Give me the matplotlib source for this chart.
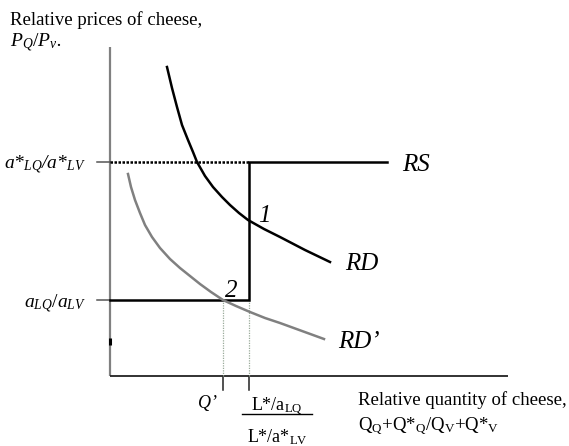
import matplotlib
matplotlib.use("Agg")
import matplotlib.pyplot as plt

plt.rcParams['font.family'] = ['Liberation Serif', 'DejaVu Serif']
plt.rcParams['mathtext.fontset'] = 'custom'
plt.rcParams['mathtext.rm'] = 'Liberation Serif'
plt.rcParams['mathtext.it'] = 'Liberation Serif:italic'

# Relative supply: flat at the two autarky price ratios, vertical at world labour ratio
price_low = 0.76     # a_LQ / a_LV
price_high = 2.14    # a*_LQ / a*_LV
labour_ratio = 1.39  # (L*/a_LQ) / (L*/a*_LV)
q_prime = 1.13       # Q'
rs_end = 2.77

# Relative demand curves (read points)
rd_x = [0.57, 0.62, 0.67, 0.72, 0.78, 0.83, 0.87, 0.95, 1.03, 1.12, 1.20, 1.29, 1.38, 1.54, 1.70, 1.95, 2.20]
rd_y = [3.09, 2.88, 2.69, 2.51, 2.36, 2.24, 2.14, 2.00, 1.89, 1.79, 1.71, 1.63, 1.56, 1.47, 1.39, 1.26, 1.14]
rd2_x = [0.18, 0.21, 0.25, 0.30, 0.35, 0.42, 0.50, 0.60, 0.70, 0.80, 0.90, 1.01, 1.13, 1.26, 1.40, 1.55, 1.70, 1.92, 2.14]
rd2_y = [2.02, 1.89, 1.76, 1.63, 1.51, 1.39, 1.28, 1.17, 1.08, 1.00, 0.92, 0.84, 0.76, 0.70, 0.64, 0.58, 0.53, 0.45, 0.37]

fig = plt.figure(figsize=(5.69, 4.46), dpi=100)
ax = fig.add_axes([0, 0, 1, 1])
ax.set_xlim(-1.10, 4.59)
ax.set_ylim(-0.70, 3.76)
ax.axis('off')

# axes
ax.plot([0, 0], [0, 3.29], color='#808080', lw=1.6, solid_capstyle='butt')
ax.plot([0, 3.98], [0, 0], color='#222222', lw=1.3, solid_capstyle='butt')
ax.plot([0, 0], [0.31, 0.38], color='black', lw=2.2, solid_capstyle='butt')

# ticks
for yv in (price_low, price_high):
    ax.plot([-0.13, 0], [yv, yv], color='#555555', lw=1.1)
for xv in (q_prime, labour_ratio):
    ax.plot([xv, xv], [0, -0.14], color='#222222', lw=1.1)
    ax.plot([xv, xv], [0, price_low], color='#9aaa9a', lw=0.9, ls=(0, (1, 1)))

# relative supply
ax.plot([0, labour_ratio], [price_high, price_high], color='black', lw=1.8, ls=(0, (1, 0.6)))
ax.plot([0, labour_ratio, labour_ratio, rs_end],
        [price_low, price_low, price_high, price_high],
        color='black', lw=1.8, solid_joinstyle='miter')

# relative demand
ax.plot(rd_x, rd_y, color='black', lw=1.8, solid_joinstyle='round')
ax.plot(rd2_x, rd2_y, color='#808080', lw=1.8, solid_joinstyle='round')

# labels
ax.text(-1.00, 3.51, 'Relative prices of cheese,', fontsize=13.5, va='baseline')
ax.text(-1.00, 3.29, r'$P_Q/P_v$.', fontsize=14, va='baseline', style='italic')
ax.text(-0.24, 2.07, r'$a$*$_{LQ}$/$a$*$_{LV}$', fontsize=14, va='baseline', ha='right', style='italic')
ax.text(-0.24, 0.68, r'$a_{LQ}/a_{LV}$', fontsize=14, va='baseline', ha='right', style='italic')

ax.text(2.92, 2.05, 'RS', fontsize=18, style='italic', va='baseline')
ax.text(2.35, 1.06, 'RD', fontsize=18, style='italic', va='baseline')
ax.text(2.28, 0.28, 'RD\u2019', fontsize=18, style='italic', va='baseline')
ax.text(1.48, 1.54, '1', fontsize=18, style='italic', va='baseline')
ax.text(1.15, 0.79, '2', fontsize=18, style='italic', va='baseline')

ax.text(0.88, -0.32, 'Q\u2019', fontsize=13, style='italic', va='baseline')
ax.plot([1.32, 2.02], [-0.38, -0.38], color='black', lw=1.0)
ax.text(1.67, -0.34, r'L*/a$_\mathrm{LQ}$', fontsize=13, va='baseline', ha='center')
ax.text(1.67, -0.66, r'L*/a*$_\mathrm{LV}$', fontsize=13, va='baseline', ha='center')

ax.text(2.48, -0.29, 'Relative quantity of cheese,', fontsize=13.5, va='baseline')
ax.text(2.48, -0.54, r'Q$_\mathrm{Q}$+Q*$_\mathrm{Q}$/Q$_\mathrm{V}$+Q*$_\mathrm{V}$',
        fontsize=13.5, va='baseline')

fig.savefig('out.png', dpi=100)
